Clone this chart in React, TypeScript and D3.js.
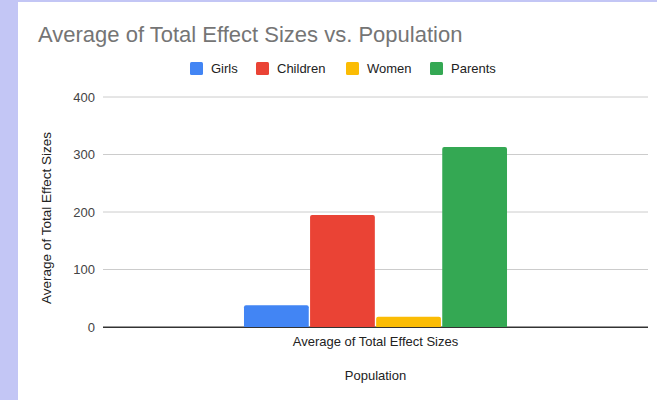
import React from 'react';
import * as d3 from 'd3';

const categories = ['Average of Total Effect Sizes'];
const seriesNames = ['Girls', 'Children', 'Women', 'Parents'];
const seriesColors = ['#4285f4', '#ea4335', '#fbbc04', '#34a853'];
const seriesValues = [38, 195, 18, 313];
const yTicks = [0, 100, 200, 300, 400];

const W = 657;
const H = 400;
const plot = { left: 103, right: 648, top: 97, bottom: 327 };

export default function App() {
  const y = d3.scaleLinear().domain([0, 400]).range([plot.bottom, plot.top]);
  const x0 = d3.scaleBand().domain(categories).range([plot.left, plot.right]).paddingInner(0).paddingOuter(0.536);
  const x1 = d3.scaleBand().domain(seriesNames).range([0, x0.bandwidth()]).paddingInner(0.02);

  const legendX = [190, 256, 346, 430];

  return (
    <svg width={W} height={H} style={{ position: 'absolute', left: 0, top: 0, fontFamily: '"Liberation Sans", Arial, sans-serif' }}>
      <rect x={0} y={0} width={W} height={H} fill="#fff" />
      <rect x={0} y={0} width={18} height={H} fill="#c3c6f5" />
      <rect x={0} y={0} width={W} height={2} fill="#c3c6f5" />

      <text x={38} y={42} fontSize={22} fill="#757575">Average of Total Effect Sizes vs. Population</text>

      {seriesNames.map((s, i) => (
        <g key={s} transform={`translate(${legendX[i]},62)`}>
          <rect x={0} y={0} width={13} height={13} rx={1.5} fill={seriesColors[i]} />
          <text x={21} y={11} fontSize={13} fill="#222">{s}</text>
        </g>
      ))}

      {yTicks.map((t) => (
        <g key={t}>
          <line x1={plot.left} x2={plot.right} y1={y(t)} y2={y(t)} stroke={t === 0 ? '#333' : '#ccc'} strokeWidth={1} />
          <text x={95} y={y(t) + 4.5} fontSize={13} textAnchor="end" fill="#444">{t}</text>
        </g>
      ))}

      {categories.map((c) => (
        <g key={c} transform={`translate(${x0(c)},0)`}>
          {seriesNames.map((s, i) => (
            <path
              key={s}
              d={(() => {
                const bx = x1(s)!;
                const bw = x1.bandwidth();
                const top = y(seriesValues[i]);
                const r = 2;
                const b = plot.bottom;
                return `M${bx},${b}V${top + r}Q${bx},${top} ${bx + r},${top}H${bx + bw - r}Q${bx + bw},${top} ${bx + bw},${top + r}V${b}Z`;
              })()}
              fill={seriesColors[i]}
            />
          ))}
        </g>
      ))}
      <line x1={plot.left} x2={plot.right} y1={plot.bottom + 0.5} y2={plot.bottom + 0.5} stroke="#333" strokeWidth={1} />

      {categories.map((c) => (
        <text key={c} x={x0(c)! + x0.bandwidth() / 2} y={346} fontSize={13} textAnchor="middle" fill="#222">{c}</text>
      ))}
      <text x={(plot.left + plot.right) / 2} y={380} fontSize={13} textAnchor="middle" fill="#222">Population</text>
      <text transform={`translate(51,218) rotate(-90)`} fontSize={13.5} textAnchor="middle" fill="#222">Average of Total Effect Sizes</text>
    </svg>
  );
}
